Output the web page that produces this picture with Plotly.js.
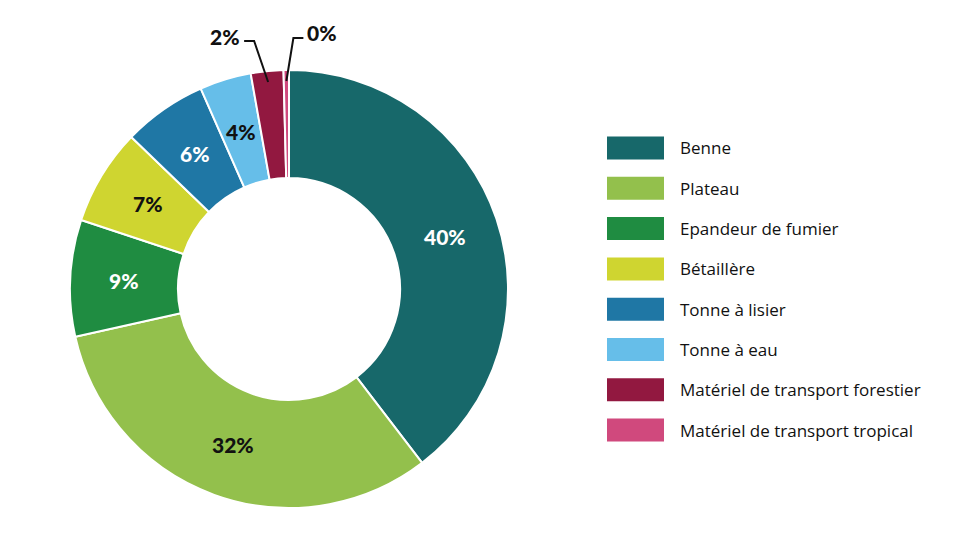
<!DOCTYPE html>
<html>
<head>
<meta charset="utf-8">
<script src="https://cdn.plot.ly/plotly-3.0.1.min.js"></script>
<style>
  html, body { margin: 0; padding: 0; background: #fff; }
  #plot { width: 972px; height: 546px; }
</style>
</head>
<body>
<div id="plot"></div>
<script>
const labels = [
  'Benne',
  'Plateau',
  'Epandeur de fumier',
  'Bétaillère',
  'Tonne à lisier',
  'Tonne à eau',
  'Matériel de transport forestier',
  'Matériel de transport tropical',
];
const values = [39.6, 31.9, 8.6, 7.1, 6.2, 3.8, 2.4, 0.4];
const colors = ['#17686a', '#93c04c', '#1f8c41', '#cfd530', '#1f77a5', '#66bee9', '#921840', '#d0497d'];
const textColors = ['#ffffff', '#111111', '#ffffff', '#111111', '#ffffff', '#111111', '#111111', '#111111'];
// slices labelled outside with a leader line
const outsideIdx = [6, 7];

const W = 972, H = 546;
const CX = 289, CY = 289, R = 219, HOLE = 0.507;
const px = (x) => x / W;
const py = (y) => 1 - y / H;

const NUM_FONT = { family: 'Lato, sans-serif', size: 21, weight: 900 };

const total = values.reduce((a, b) => a + b, 0);
const pct = (v) => Math.round(v / total * 100) + '%';

const trace = {
  type: 'pie',
  labels: labels,
  values: values,
  sort: false,
  direction: 'clockwise',
  rotation: 0,
  hole: HOLE,
  marker: { colors: colors, line: { color: '#ffffff', width: 2 } },
  textinfo: 'none',
  domain: { x: [px(CX - R), px(CX + R)], y: [py(CY + R), py(CY - R)] },
  showlegend: false,
  hoverinfo: 'label+percent',
};

const shapes = [];
const annotations = [];

// legend drawn by hand so the swatches are wide bars
labels.forEach((lab, i) => {
  const yc = 148 + i * 40.3;
  shapes.push({
    type: 'rect', xref: 'paper', yref: 'paper',
    x0: px(607), x1: px(664), y0: py(yc + 11.5), y1: py(yc - 11.5),
    fillcolor: colors[i], line: { width: 0 },
  });
  annotations.push({
    xref: 'paper', yref: 'paper', x: px(678), y: py(yc),
    xanchor: 'left', yanchor: 'middle', showarrow: false,
    text: lab, font: { family: '"Open Sans", sans-serif', size: 17, color: '#111111' },
  });
});

// slice mid angles (clockwise from 12 o'clock)
let cum = 0;
const mids = values.map((v) => { const m = cum + v / 2; cum += v; return m / total * 2 * Math.PI; });

// percentage labels on the ring
const rMid = R * (1 + HOLE) / 2;
values.forEach((v, i) => {
  if (outsideIdx.includes(i)) return;
  const a = mids[i];
  annotations.push({
    xref: 'paper', yref: 'paper',
    x: px(CX + rMid * Math.sin(a)), y: py(CY - rMid * Math.cos(a)),
    xanchor: 'center', yanchor: 'middle', showarrow: false,
    text: pct(v),
    font: Object.assign({}, NUM_FONT, { color: textColors[i] }),
  });
});

// leader lines for the thin slices
outsideIdx.forEach((i, k) => {
  const a = mids[i];
  const r = R * 0.95;
  const x0 = CX + r * Math.sin(a), y0 = CY - r * Math.cos(a);
  const side = k === 0 ? -1 : 1;
  const ex = x0 + (k === 0 ? -14 : 7), ey = y0 - 41 - k * 2;
  const hx = ex + side * 10;
  shapes.push({
    type: 'path', xref: 'paper', yref: 'paper',
    path: `M${px(x0)},${py(y0)} L${px(ex)},${py(ey)} L${px(hx)},${py(ey)}`,
    line: { color: '#111111', width: 2 },
  });
  annotations.push({
    xref: 'paper', yref: 'paper', x: px(hx + side * 2), y: py(ey - 5),
    xanchor: side < 0 ? 'right' : 'left', yanchor: 'middle', showarrow: false,
    text: pct(values[i]),
    font: Object.assign({}, NUM_FONT, { color: textColors[i] }),
  });
});

const layout = {
  width: W,
  height: H,
  margin: { l: 0, r: 0, t: 0, b: 0 },
  paper_bgcolor: '#ffffff',
  showlegend: false,
  shapes: shapes,
  annotations: annotations,
};

Plotly.newPlot('plot', [trace], layout, { displayModeBar: false, staticPlot: true });
</script>
</body>
</html>
